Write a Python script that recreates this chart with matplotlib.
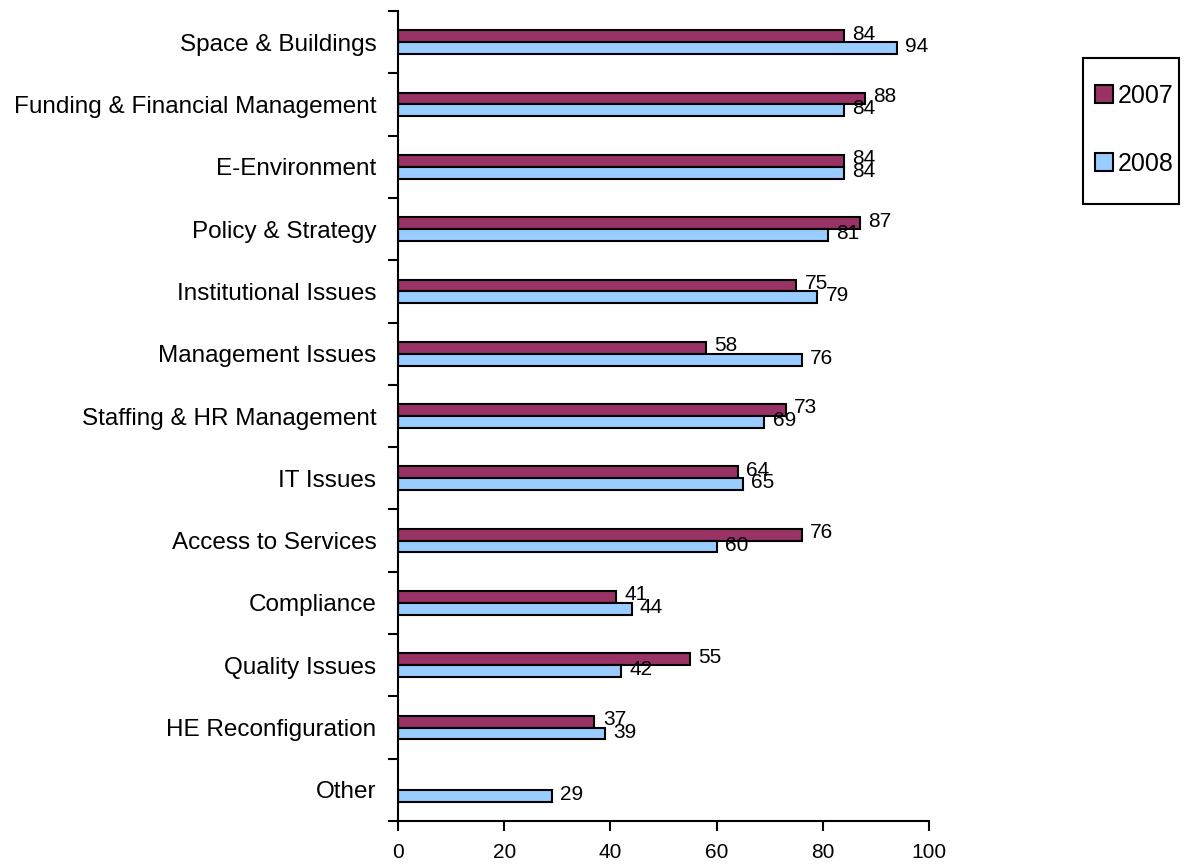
import numpy as np
import matplotlib
matplotlib.use('Agg')
import matplotlib.pyplot as plt
from matplotlib.patches import Patch, Rectangle

plt.rcParams['font.family'] = ['Liberation Sans', 'DejaVu Sans']

categories = ['Space & Buildings', 'Funding & Financial Management', 'E-Environment',
              'Policy & Strategy', 'Institutional Issues', 'Management Issues',
              'Staffing & HR Management', 'IT Issues', 'Access to Services',
              'Compliance', 'Quality Issues', 'HE Reconfiguration', 'Other']
values_2007 = [84, 88, 84, 87, 75, 58, 73, 64, 76, 41, 55, 37, np.nan]
values_2008 = [94, 84, 84, 81, 79, 76, 69, 65, 60, 44, 42, 39, 29]
x_ticks = [0, 20, 40, 60, 80, 100]

COLOR_2007 = '#993366'
COLOR_2008 = '#99CCFF'
BAR_H = 0.19
W, H = 1188, 865

fig = plt.figure(figsize=(W / 100, H / 100), dpi=100)
ax = fig.add_axes([398 / W, 1 - 821 / H, 531 / W, 810 / H])

y = np.arange(len(categories))
ax.barh(y - BAR_H / 2, values_2007, height=BAR_H, color=COLOR_2007,
        edgecolor='black', linewidth=1.5)
ax.barh(y + BAR_H / 2, values_2008, height=BAR_H, color=COLOR_2008,
        edgecolor='black', linewidth=1.5)

# value labels just right of each bar
for yi, v in zip(y, values_2007):
    if not np.isnan(v):
        ax.annotate(f'{int(v)}', (v, yi - BAR_H / 2), xytext=(6, 1.5),
                    textcoords='offset points', ha='left', va='center', fontsize=15)
for yi, v in zip(y, values_2008):
    ax.annotate(f'{int(v)}', (v, yi + BAR_H / 2), xytext=(6, 1),
                textcoords='offset points', ha='left', va='center', fontsize=15)

ax.set_xlim(0, 100)
ax.set_ylim(len(categories) - 0.5, -0.5)
ax.set_xticks(x_ticks)
ax.set_xticklabels([str(t) for t in x_ticks], fontsize=15)
ax.set_yticks(y)
ax.set_yticklabels(categories, fontsize=17.5)
ax.set_yticks(np.arange(len(categories) + 1) - 0.5, minor=True)
ax.tick_params(axis='y', which='major', length=0, pad=15.5)
ax.tick_params(axis='y', which='minor', length=7, width=1.5, direction='out')
ax.tick_params(axis='x', which='major', length=7, width=1.5, direction='out', pad=9)

for s in ['top', 'right']:
    ax.spines[s].set_visible(False)
for s in ['left', 'bottom']:
    ax.spines[s].set_linewidth(1.5)

handles = [Patch(facecolor=COLOR_2007, edgecolor='black', linewidth=1.5, label='2007'),
           Patch(facecolor=COLOR_2008, edgecolor='black', linewidth=1.5, label='2008')]
fig.legend(handles=handles, loc='center left',
           bbox_to_anchor=(1095 / W, 1 - 129.75 / H),
           fontsize=18, frameon=False,
           handlelength=0.7, handleheight=0.7, handletextpad=0.2,
           labelspacing=1.76, borderpad=0, borderaxespad=0)
fig.patches.append(Rectangle((1083 / W, 1 - 204 / H), 96 / W, 146 / H,
                             transform=fig.transFigure, fill=False,
                             edgecolor='black', linewidth=1.5))

fig.savefig('out.png', dpi=100)
